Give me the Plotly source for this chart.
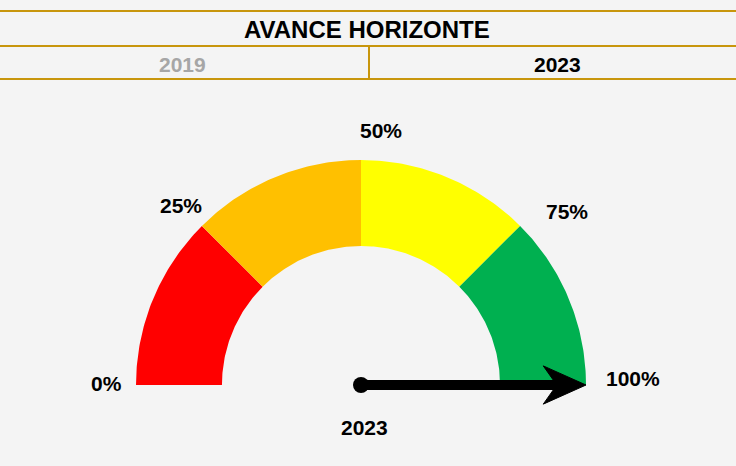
import math
import plotly.graph_objects as go

# ---- data ----
title_text = "AVANCE HORIZONTE"
years = ["2019", "2023"]
thresholds = [0, 25, 50, 75, 100]
segment_colors = ["#FF0000", "#FFC000", "#FFFF00", "#00B050"]
tick_labels = ["0%", "25%", "50%", "75%", "100%"]
needle_label = "2023"
needle_value = 100

# ---- geometry (pixels -> units) ----
W, H = 736, 466
CX, CY = 361, 385          # gauge centre in pixels
SCALE = 225.0              # pixels per unit (outer radius = 1)
R_OUT, R_IN = 1.0, 0.618
FONT = "Liberation Sans, Arial, sans-serif"

def ang(v):
    return math.pi * (1 - v / 100.0)

fig = go.Figure()

for i, col in enumerate(segment_colors):
    a0, a1 = ang(thresholds[i]), ang(thresholds[i + 1])
    n = 60
    xs, ys = [], []
    for k in range(n + 1):
        a = a0 + (a1 - a0) * k / n
        xs.append(R_OUT * math.cos(a)); ys.append(R_OUT * math.sin(a))
    for k in range(n + 1):
        a = a1 + (a0 - a1) * k / n
        xs.append(R_IN * math.cos(a)); ys.append(R_IN * math.sin(a))
    fig.add_trace(go.Scatter(x=xs, y=ys, fill="toself", fillcolor=col, mode="lines",
                             line=dict(width=0, color=col), hoverinfo="skip", showlegend=False))

# needle
a = ang(needle_value)
tipx, tipy = math.cos(a), math.sin(a)
ux, uy = math.cos(a), math.sin(a)
px, py = -uy, ux
shaft_end = 0.88
fig.add_trace(go.Scatter(x=[0, shaft_end * ux], y=[0, shaft_end * uy], mode="lines",
                         line=dict(color="black", width=10), hoverinfo="skip", showlegend=False))
head_back, head_half, notch = 0.81, 0.085, 0.87
hx = [tipx, head_back * ux + head_half * px, notch * ux, head_back * ux - head_half * px, tipx]
hy = [tipy, head_back * uy + head_half * py, notch * uy, head_back * uy - head_half * py, tipy]
fig.add_trace(go.Scatter(x=hx, y=hy, fill="toself", fillcolor="black", mode="lines",
                         line=dict(width=1, color="black"), hoverinfo="skip", showlegend=False))
fig.add_trace(go.Scatter(x=[0], y=[0], mode="markers", marker=dict(color="black", size=16),
                         hoverinfo="skip", showlegend=False))

# tick labels
label_r = 1.13
xshifts = [0, 0, 20, 26, 18]
yshifts = [2, 0, 0, -6, 7]
for v, t, xs_, ys_ in zip(thresholds, tick_labels, xshifts, yshifts):
    aa = ang(v)
    fig.add_annotation(x=label_r * math.cos(aa), y=label_r * math.sin(aa), text="<b>%s</b>" % t,
                       showarrow=False, xshift=xs_, yshift=ys_,
                       font=dict(family=FONT, size=21, color="black"))
fig.add_annotation(x=0, y=-0.19, text="<b>%s</b>" % needle_label, showarrow=False, xshift=3,
                   font=dict(family=FONT, size=21, color="black"))

# header
gold = "#C8960C"
for yp in [11, 46, 79]:
    fig.add_shape(type="line", xref="paper", yref="paper", x0=0, x1=1,
                  y0=1 - yp / H, y1=1 - yp / H, line=dict(color=gold, width=2))
fig.add_shape(type="line", xref="paper", yref="paper", x0=369 / W, x1=369 / W,
              y0=1 - 46 / H, y1=1 - 79 / H, line=dict(color=gold, width=2))
hdr = dict(xref="paper", yref="paper", xanchor="center", yanchor="middle", showarrow=False)
fig.add_annotation(x=367 / W, y=1 - 30 / H, text="<b>%s</b>" % title_text,
                   font=dict(family=FONT, size=24, color="black"), **hdr)
fig.add_annotation(x=182 / W, y=1 - 64 / H, text="<b>%s</b>" % years[0],
                   font=dict(family=FONT, size=21, color="#A6A6A6"), **hdr)
fig.add_annotation(x=557 / W, y=1 - 64 / H, text="<b>%s</b>" % years[1],
                   font=dict(family=FONT, size=21, color="black"), **hdr)

fig.update_xaxes(range=[-CX / SCALE, (W - CX) / SCALE], visible=False, fixedrange=True)
fig.update_yaxes(range=[-(H - CY) / SCALE, CY / SCALE], visible=False, fixedrange=True)
fig.update_layout(width=W, height=H, autosize=False, margin=dict(l=0, r=0, t=0, b=0),
                  paper_bgcolor="#F4F4F4", plot_bgcolor="rgba(0,0,0,0)")
fig.write_html("out.html", config={"displayModeBar": False},
               post_script="document.body.style.margin='0';document.body.style.overflow='hidden';")
